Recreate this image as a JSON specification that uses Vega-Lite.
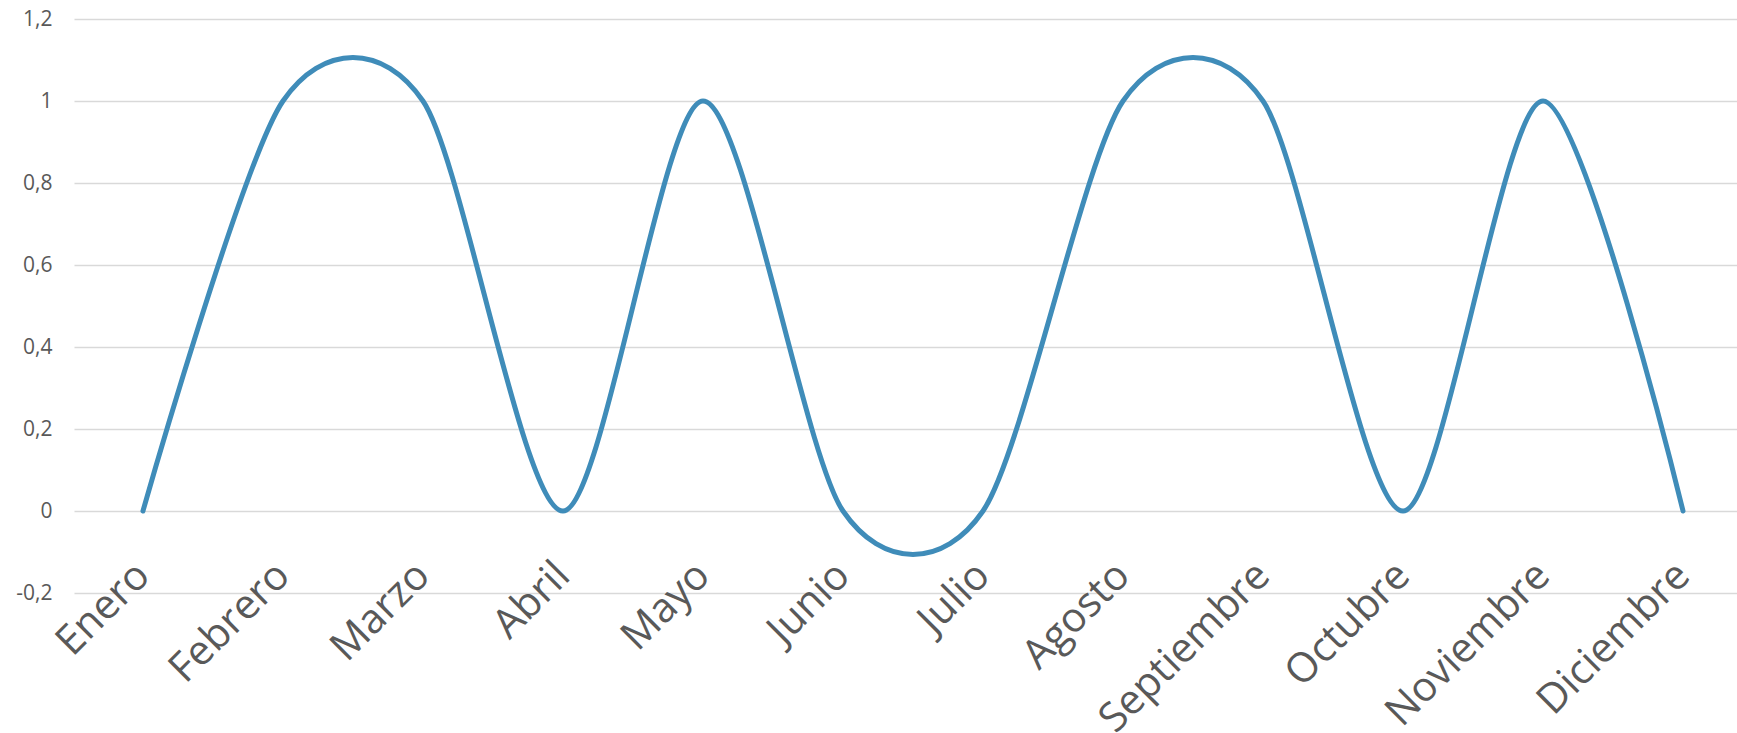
{
  "$schema": "https://vega.github.io/schema/vega-lite/v6.json",
  "autosize": "none",
  "padding": {"left": 74, "top": 19, "right": 0, "bottom": 140},
  "width": 1663,
  "height": 574,
  "background": "white",
  "config": {"view": {"stroke": null}},
  "data": {"values": [
    {"mes": "Enero", "valor": 0},
    {"mes": "Febrero", "valor": 1},
    {"mes": "Marzo", "valor": 1},
    {"mes": "Abril", "valor": 0},
    {"mes": "Mayo", "valor": 1},
    {"mes": "Junio", "valor": 0},
    {"mes": "Julio", "valor": 0},
    {"mes": "Agosto", "valor": 1},
    {"mes": "Septiembre", "valor": 1},
    {"mes": "Octubre", "valor": 0},
    {"mes": "Noviembre", "valor": 1},
    {"mes": "Diciembre", "valor": 0}
  ]},
  "mark": {"type": "line", "interpolate": "cardinal", "tension": 0.15, "color": "#3f8cb9", "strokeWidth": 5, "strokeCap": "round"},
  "encoding": {
    "x": {
      "field": "mes", "type": "ordinal", "sort": null,
      "scale": {"type": "point", "padding": 0.439, "align": 0.561},
      "axis": {
        "title": null, "domain": false, "ticks": false, "grid": false,
        "labelAngle": -45, "labelAlign": "right", "labelBaseline": "middle",
        "labelPadding": -24, "labelFontSize": 41, "labelFont": "Open Sans", "labelLimit": 0,
        "labelColor": "#595959", "labelOverlap": false, "labelBound": false, "labelFlush": false
      }
    },
    "y": {
      "field": "valor", "type": "quantitative",
      "scale": {"domain": [-0.2, 1.2], "nice": false, "zero": false},
      "axis": {
        "title": null, "domain": false, "ticks": false,
        "values": [-0.2, 0, 0.2, 0.4, 0.6, 0.8, 1, 1.2],
        "labelExpr": "replace(replace(format(datum.value, '.1~f'), '.', ','), '\u2212', '-')",
        "labelFontSize": 21, "labelFont": "Open Sans", "labelColor": "#595959",
        "labelPadding": 22, "gridColor": "#d9d9d9", "gridWidth": 1.5
      }
    }
  }
}
